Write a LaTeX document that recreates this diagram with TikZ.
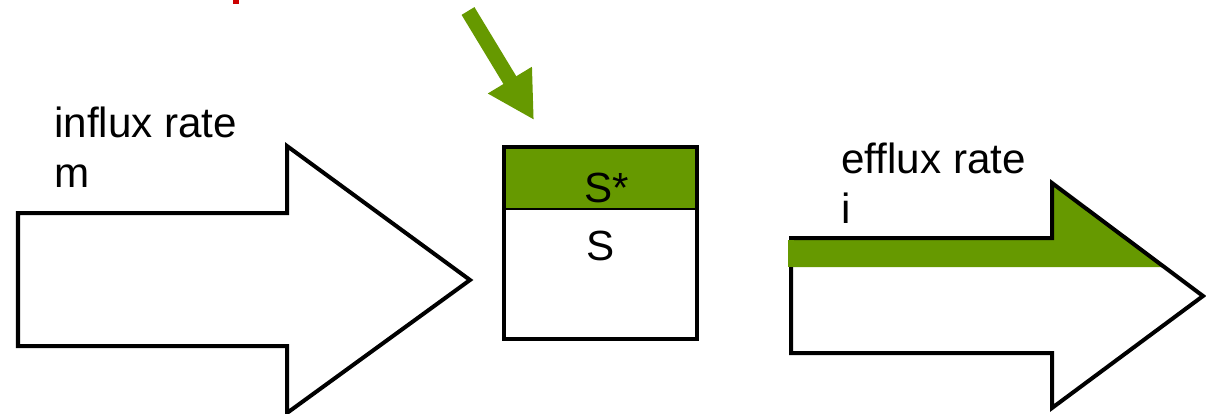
\documentclass[tikz,border=0pt]{standalone}
\usepackage{fontspec}
\setmainfont{Liberation Sans}
\usetikzlibrary{arrows.meta,positioning}
\definecolor{leafgreen}{RGB}{102,153,0}
\definecolor{darkred}{RGB}{204,0,0}
\begin{document}
\begin{tikzpicture}[x=0.025cm,y=-0.025cm,
        ratelabel/.style={font=\fontsize{30}{36}\selectfont, inner sep=0pt, anchor=base west},
        species/.style={font=\fontsize{30}{36}\selectfont, inner sep=0pt, anchor=base},
        outline/.style={line width=0.1cm, line join=miter},
        kick/.style={line width=0.375cm, leafgreen, -{Triangle[length=1.165cm,width=1.2cm]}}
    ]
            \useasboundingbox (0,0) rectangle (1206,414);
            \fill[darkred] (233,0) rectangle (239,4);
            % influx arrow
            \draw[outline] (18,213) -- (287,213) -- (287,146) -- (470,280) -- (287,413) -- (287,346) -- (18,346) -- cycle;
            \node[ratelabel] (influx) at (54,137) {influx rate};
            \node[ratelabel, below=1.25cm of influx.base west, anchor=base west] (influxsym) {m};
            % pool
            \fill[leafgreen] (504,147) rectangle (697,209);
            \draw[line width=0.04cm] (504,209) -- (697,209);
            \draw[outline, line width=0.11cm] (504,147) rectangle (697,339);
            \node[species] (sstar) at (607,202) {S*};
            \node[species] (s) at (600.5,260) {S};
            % kick
            \coordinate (kickstart) at (468,11);
            \coordinate (kicktip) at (534,120);
            \draw[kick] (kickstart) -- (kicktip);
            % efflux arrow
            \fill[leafgreen] (791,238) -- (1052,238) -- (1052,183) -- (1164,267) -- (791,267) -- cycle;
            \draw[outline] (791,238) -- (1052,238) -- (1052,183) -- (1203,296) -- (1052,408) -- (1052,353) -- (791,353) -- cycle;
            \fill[leafgreen] (788,240) rectangle (794,267);
            \node[ratelabel] (efflux) at (841,173) {efflux rate};
            \node[ratelabel, below=1.25cm of efflux.base west, anchor=base west] (effluxsym) {i};
        \end{tikzpicture}
\end{document}
